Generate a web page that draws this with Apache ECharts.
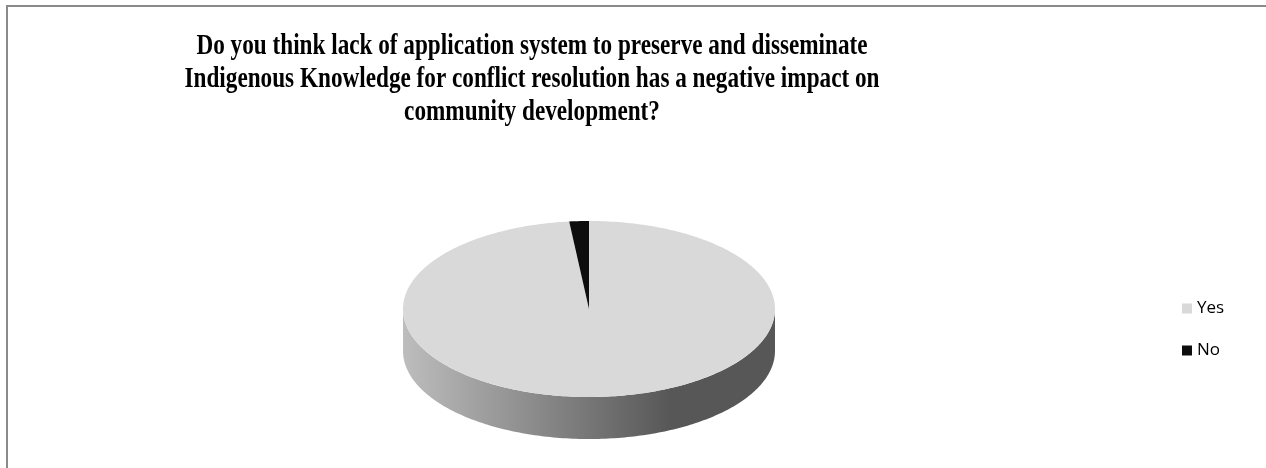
<!DOCTYPE html>
<html>
<head>
<meta charset="utf-8">
<script src="https://cdn.jsdelivr.net/npm/echarts@6/dist/echarts.min.js"></script>
<style>html,body{margin:0;padding:0;background:#fff;}#c{width:1266px;height:468px;}</style>
</head>
<body>
<div id="c"></div>
<script>
const categories = ['Yes', 'No'];
const values = [98.3, 1.7];
const colors = ['#d9d9d9', '#0d0d0d'];
const titleLines = [
  'Do you think lack of application system to preserve and disseminate',
  'Indigenous Knowledge for conflict resolution has a negative impact on',
  'community development?'
];

const total = values.reduce((a, b) => a + b, 0);
const PIE = { cx: 589, cy: 309, rx: 186, ry: 88, depth: 42 };

function pt(t, dy) {
  return [PIE.cx + PIE.rx * Math.sin(t), PIE.cy - PIE.ry * Math.cos(t) + (dy || 0)];
}
function arc(t0, t1, dy) {
  const n = Math.max(2, Math.ceil((t1 - t0) / (Math.PI / 180)));
  const pts = [];
  for (let i = 0; i <= n; i++) pts.push(pt(t0 + (t1 - t0) * i / n, dy));
  return pts;
}
const sideFill = {
  type: 'linear', x: PIE.cx - PIE.rx, y: 0, x2: PIE.cx + PIE.rx, y2: 0, global: true,
  colorStops: [
    { offset: 0, color: '#bdbdbd' },
    { offset: 0.72, color: '#575757' },
    { offset: 1, color: '#575757' }
  ]
};

function makeRender(idx) {
  return function (params, api) {
    const v = api.value(0);
    let start = 0;
    for (let j = 0; j < idx; j++) start += values[j];
    const t0 = start / total * Math.PI * 2;
    const t1 = (start + v) / total * Math.PI * 2;
    const children = [];
    const a = Math.max(t0, Math.PI / 2), b = Math.min(t1, Math.PI * 1.5);
    if (b > a) {
      const top = arc(a, b, 0);
      const bottom = arc(a, b, PIE.depth).reverse();
      children.push({ type: 'polygon', shape: { points: top.concat(bottom) }, style: { fill: sideFill } });
    }
    children.push({
      type: 'polygon',
      shape: { points: [[PIE.cx, PIE.cy]].concat(arc(t0, t1, 0)) },
      style: { fill: api.visual('color') }
    });
    return { type: 'group', children: children };
  };
}

const series = categories.map((name, i) => ({
  type: 'custom',
  name: name,
  coordinateSystem: 'none',
  itemStyle: { color: colors[i] },
  data: [[values[i]]],
  renderItem: makeRender(i),
  silent: true
}));

const chart = echarts.init(document.getElementById('c'), null, { renderer: 'canvas' });
chart.setOption({
  animation: false,
  backgroundColor: '#ffffff',
  legend: {
    data: categories,
    orient: 'vertical',
    left: 1177,
    top: 295,
    itemWidth: 10,
    itemHeight: 10,
    itemGap: 25,
    icon: 'rect',
    textStyle: { fontFamily: 'Open Sans', fontSize: 17, color: '#000' }
  },
  graphic: [{
    type: 'rect',
    shape: { x: 7, y: 6, width: 1400, height: 600 },
    style: { fill: 'none', stroke: '#8a8a8a', lineWidth: 2 },
    silent: true
  }, {
    type: 'text',
    x: 532,
    y: 30,
    scaleX: 0.8,
    silent: true,
    style: {
      text: titleLines.join('\n'),
      fontFamily: 'Liberation Serif',
      fontWeight: 'bold',
      fontSize: 29,
      lineHeight: 33,
      fill: '#000',
      align: 'center',
      verticalAlign: 'top'
    }
  }],
  series: series
});
</script>
</body>
</html>
